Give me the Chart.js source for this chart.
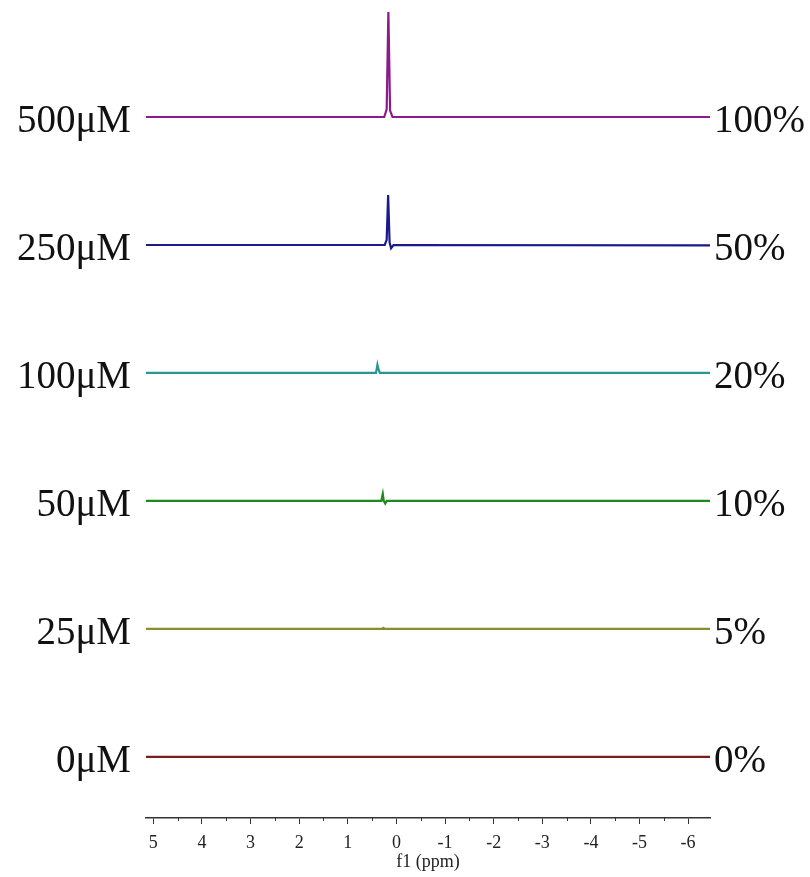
<!DOCTYPE html>
<html>
<head>
<meta charset="utf-8">
<script src="https://cdn.jsdelivr.net/npm/chart.js@4"></script>
<style>
  body { margin: 0; background: #fff; }
  .wrap { width: 810px; height: 877px; }
</style>
</head>
<body>
<div class="wrap"><canvas class="js-chart"></canvas></div>
<script>
const ctx = document.querySelector('.js-chart').getContext('2d');

// stacked spectra, bottom (0 uM) to top (500 uM)
const concLabels = ['0μM', '25μM', '50μM', '100μM', '250μM', '500μM'];
const pctLabels = ['0%', '5%', '10%', '20%', '50%', '100%'];
const colors = ['#7d1c1c', '#8c8c28', '#1e8a1e', '#2a9595', '#1a1a8c', '#8c1a8c'];

// chemical shift (ppm) and intensity of each trace
const ppm0 = [5.15, -6.45];
const int0 = [0, 0];
const ppm25 = [5.15, 0.3, 0.27, 0.24, -6.45];
const int25 = [0, 0, 0.008, 0, 0];
const ppm50 = [5.15, 0.31, 0.28, 0.26, 0.23, 0.2, -6.45];
const int50 = [0, 0, 0.055, 0.0, -0.02, 0, 0];
const ppm100 = [5.15, 0.42, 0.39, 0.37, 0.34, 0.3, -6.45];
const int100 = [0, 0, 0.065, 0.03, 0, 0, 0];
const ppm250 = [5.15, 0.24, 0.2, 0.17, 0.14, 0.11, 0.06, -6.45];
const int250 = [0, 0, 0.04, 0.39, 0.02, -0.025, 0, -0.003];
const ppm500 = [5.15, 0.25, 0.2, 0.165, 0.13, 0.08, -6.45];
const int500 = [0, 0, 0.06, 0.82, 0.05, 0, 0];

const ppmSets = [ppm0, ppm25, ppm50, ppm100, ppm250, ppm500];
const intSets = [int0, int25, int50, int100, int250, int500];

const X_MIN = -6.45;
const X_MAX = 5.15;
const SERIF = '"Liberation Serif", "Times New Roman", serif';

const datasets = ppmSets.map((xs, i) => ({
    label: concLabels[i],
    data: xs.map((x, j) => ({ x, y: intSets[i][j] + i })),
    borderColor: colors[i],
    borderWidth: 2.2,
    pointRadius: 0,
    tension: 0,
}));

const sideLabels = {
    id: 'sideLabels',
    afterDraw(chart) {
        const { ctx, chartArea, scales } = chart;
        ctx.save();
        ctx.font = '39px ' + SERIF;
        ctx.fillStyle = '#111';
        ctx.textBaseline = 'alphabetic';
        concLabels.forEach((label, i) => {
            const y = scales.y.getPixelForValue(i) + 15;
            ctx.textAlign = 'right';
            ctx.fillText(label, chartArea.left - 15, y);
            ctx.textAlign = 'left';
            ctx.fillText(pctLabels[i], chartArea.right + 4, y);
        });
        // minor ticks at half ppm
        ctx.strokeStyle = '#333';
        ctx.lineWidth = 1;
        for (let v = -6.5; v <= 5.5; v += 1) {
            if (v < X_MIN || v > X_MAX) continue;
            const x = Math.round(scales.x.getPixelForValue(v)) + 0.5;
            ctx.beginPath();
            ctx.moveTo(x, chartArea.bottom);
            ctx.lineTo(x, chartArea.bottom + 3);
            ctx.stroke();
        }
        ctx.restore();
    },
};

new Chart(ctx, {
    type: 'line',
    data: { datasets },
    plugins: [sideLabels],
    options: {
        responsive: true,
        maintainAspectRatio: false,
        animation: false,
        layout: { padding: { left: 146, right: 100, top: 0, bottom: 0 } },
        plugins: { legend: { display: false }, tooltip: { enabled: false } },
        scales: {
            x: {
                type: 'linear',
                reverse: true,
                min: X_MIN,
                max: X_MAX,
                afterFit(scale) {
                    scale.height = 59;
                },
                border: { display: true, color: '#333', width: 1.5 },
                grid: { drawOnChartArea: false, drawTicks: true, tickLength: 6, color: '#333' },
                ticks: {
                    stepSize: 1,
                    includeBounds: false,
                    padding: 8,
                    color: '#222',
                    font: { family: SERIF, size: 18 },
                    maxRotation: 0,
                    autoSkip: false,
                },
                title: {
                    display: true,
                    text: 'f1 (ppm)',
                    color: '#222',
                    font: { family: SERIF, size: 18 },
                    padding: { top: 0, bottom: 4 },
                },
            },
            y: {
                display: false,
                min: -0.477,
                max: 5.914,
            },
        },
    },
});
</script>
</body>
</html>
